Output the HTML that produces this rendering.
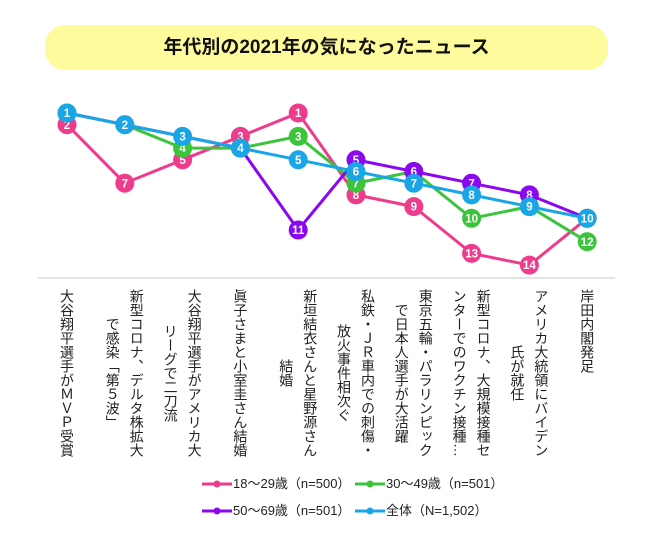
<!DOCTYPE html>
<html><head><meta charset="utf-8">
<style>
html,body{margin:0;padding:0;background:#fff;}
body{width:650px;height:551px;position:relative;overflow:hidden;font-family:"Liberation Sans","Noto Sans CJK JP",sans-serif;}
.title{position:absolute;left:45px;top:25px;width:563px;height:45px;border-radius:20px;background:#fdfb9b;text-align:center;line-height:45px;font-size:19px;font-weight:bold;color:#111;font-family:"Liberation Sans","Noto Sans CJK JP",sans-serif;}
.lab{position:absolute;top:289px;writing-mode:vertical-rl;text-align:center;font-size:14px;line-height:24px;color:#222;transform:translateX(-50%);white-space:nowrap;font-family:"Liberation Sans","Noto Sans CJK JP",sans-serif;}
.leg{position:absolute;font-size:13px;color:#222;line-height:16px;white-space:nowrap;font-family:"Liberation Sans","Noto Sans CJK JP",sans-serif;}
</style></head><body>
<div class="title">年代別の2021年の気になったニュース</div>
<svg width="650" height="551" style="position:absolute;left:0;top:0">
<line x1="38" y1="278" x2="615" y2="278" stroke="#dcdcdc" stroke-width="1.5"/>
<g font-family="Liberation Sans, sans-serif" font-size="11.5" font-weight="bold" fill="#fff" text-anchor="middle">
<!-- pink -->
<polyline fill="none" stroke="#ef3b8c" stroke-width="3" points="67,124.7 124.8,183.2 182.6,159.8 240.4,136.4 298.2,113 356,194.9 413.8,206.6 471.6,253.4 529.4,265.1 587.2,218.3"/>
<g>
<circle cx="67" cy="124.7" r="9.5" fill="#ef3b8c"/><text x="67" y="128.8">2</text>
<circle cx="124.8" cy="183.2" r="9.5" fill="#ef3b8c"/><text x="124.8" y="187.3">7</text>
<circle cx="182.6" cy="159.8" r="9.5" fill="#ef3b8c"/><text x="182.6" y="163.9">5</text>
<circle cx="240.4" cy="136.4" r="9.5" fill="#ef3b8c"/><text x="240.4" y="140.5">3</text>
<circle cx="298.2" cy="113" r="9.5" fill="#ef3b8c"/><text x="298.2" y="117.1">1</text>
<circle cx="356" cy="194.9" r="9.5" fill="#ef3b8c"/><text x="356" y="199">8</text>
<circle cx="413.8" cy="206.6" r="9.5" fill="#ef3b8c"/><text x="413.8" y="210.7">9</text>
<circle cx="471.6" cy="253.4" r="9.5" fill="#ef3b8c"/><text x="471.6" y="257.5">13</text>
<circle cx="529.4" cy="265.1" r="9.5" fill="#ef3b8c"/><text x="529.4" y="269.2">14</text>
<circle cx="587.2" cy="218.3" r="9.5" fill="#ef3b8c"/><text x="587.2" y="222.4">10</text>
</g>
<!-- green -->
<polyline fill="none" stroke="#3cc43c" stroke-width="3" points="67,113 124.8,124.7 182.6,148.1 240.4,148.1 298.2,136.4 356,183.2 413.8,171.5 471.6,218.3 529.4,206.6 587.2,241.7"/>
<g>
<circle cx="67" cy="113" r="9.5" fill="#3cc43c"/>
<circle cx="124.8" cy="124.7" r="9.5" fill="#3cc43c"/>
<circle cx="182.6" cy="148.1" r="9.5" fill="#3cc43c"/><text x="182.6" y="152.2">4</text>
<circle cx="240.4" cy="148.1" r="9.5" fill="#3cc43c"/>
<circle cx="298.2" cy="136.4" r="9.5" fill="#3cc43c"/><text x="298.2" y="140.5">3</text>
<circle cx="356" cy="183.2" r="9.5" fill="#3cc43c"/><text x="356" y="187.3">7</text>
<circle cx="413.8" cy="171.5" r="9.5" fill="#3cc43c"/>
<circle cx="471.6" cy="218.3" r="9.5" fill="#3cc43c"/><text x="471.6" y="222.4">10</text>
<circle cx="529.4" cy="206.6" r="9.5" fill="#3cc43c"/>
<circle cx="587.2" cy="241.7" r="9.5" fill="#3cc43c"/><text x="587.2" y="245.8">12</text>
</g>
<!-- purple -->
<polyline fill="none" stroke="#8a07ef" stroke-width="3" points="67,113 124.8,124.7 182.6,136.4 240.4,148.1 298.2,230 356,159.8 413.8,171.5 471.6,183.2 529.4,194.9 587.2,218.3"/>
<g>
<circle cx="298.2" cy="230" r="9.5" fill="#8a07ef"/><text x="298.2" y="234.1">11</text>
<circle cx="356" cy="159.8" r="9.5" fill="#8a07ef"/><text x="356" y="163.9">5</text>
<circle cx="413.8" cy="171.5" r="9.5" fill="#8a07ef"/><text x="413.8" y="175.6">6</text>
<circle cx="471.6" cy="183.2" r="9.5" fill="#8a07ef"/><text x="471.6" y="187.3">7</text>
<circle cx="529.4" cy="194.9" r="9.5" fill="#8a07ef"/><text x="529.4" y="199">8</text>
</g>
<!-- blue -->
<polyline fill="none" stroke="#1aa6e6" stroke-width="3" points="67,113 124.8,124.7 182.6,136.4 240.4,148.1 298.2,159.8 356,171.5 413.8,183.2 471.6,194.9 529.4,206.6 587.2,218.3"/>
<g>
<circle cx="67" cy="113" r="9.5" fill="#1aa6e6"/><text x="67" y="117.1">1</text>
<circle cx="124.8" cy="124.7" r="9.5" fill="#1aa6e6"/><text x="124.8" y="128.8">2</text>
<circle cx="182.6" cy="136.4" r="9.5" fill="#1aa6e6"/><text x="182.6" y="140.5">3</text>
<circle cx="240.4" cy="148.1" r="9.5" fill="#1aa6e6"/><text x="240.4" y="152.2">4</text>
<circle cx="298.2" cy="159.8" r="9.5" fill="#1aa6e6"/><text x="298.2" y="163.9">5</text>
<circle cx="356" cy="171.5" r="9.5" fill="#1aa6e6"/><text x="356" y="175.6">6</text>
<circle cx="413.8" cy="183.2" r="9.5" fill="#1aa6e6"/><text x="413.8" y="187.3">7</text>
<circle cx="471.6" cy="194.9" r="9.5" fill="#1aa6e6"/><text x="471.6" y="199">8</text>
<circle cx="529.4" cy="206.6" r="9.5" fill="#1aa6e6"/><text x="529.4" y="210.7">9</text>
<circle cx="587.2" cy="218.3" r="9.5" fill="#1aa6e6"/><text x="587.2" y="222.4">10</text>
</g>
</g>
<!-- legend -->
<line x1="202" y1="484" x2="232" y2="484" stroke="#ef3b8c" stroke-width="3"/><circle cx="217" cy="484" r="3.5" fill="#ef3b8c"/>
<line x1="355" y1="484" x2="385" y2="484" stroke="#3cc43c" stroke-width="3"/><circle cx="370" cy="484" r="3.5" fill="#3cc43c"/>
<line x1="202" y1="511" x2="232" y2="511" stroke="#8a07ef" stroke-width="3"/><circle cx="217" cy="511" r="3.5" fill="#8a07ef"/>
<line x1="355" y1="511" x2="385" y2="511" stroke="#1aa6e6" stroke-width="3"/><circle cx="370" cy="511" r="3.5" fill="#1aa6e6"/>
</svg>
<div class="leg" style="left:233px;top:476px">18～29歳（n=500）</div>
<div class="leg" style="left:386px;top:476px">30～49歳（n=501）</div>
<div class="leg" style="left:233px;top:503px">50～69歳（n=501）</div>
<div class="leg" style="left:386px;top:503px">全体（N=1,502）</div>

<div class="lab" style="left:67px">大谷翔平選手がＭＶＰ受賞</div>
<div class="lab" style="left:124.8px">新型コロナ、デルタ株拡大<br>で感染「第５波」</div>
<div class="lab" style="left:182.6px">大谷翔平選手がアメリカ大<br>リーグで二刀流</div>
<div class="lab" style="left:240.4px">眞子さまと小室圭さん結婚</div>
<div class="lab" style="left:298.2px">新垣結衣さんと星野源さん<br>結婚</div>
<div class="lab" style="left:356px">私鉄・ＪＲ車内での刺傷・<br>放火事件相次ぐ</div>
<div class="lab" style="left:413.8px">東京五輪・パラリンピック<br>で日本人選手が大活躍</div>
<div class="lab" style="left:471.6px">新型コロナ、大規模接種セ<br>ンターでのワクチン接種…</div>
<div class="lab" style="left:529.4px">アメリカ大統領にバイデン<br>氏が就任</div>
<div class="lab" style="left:587.2px">岸田内閣発足</div>
</body></html>
